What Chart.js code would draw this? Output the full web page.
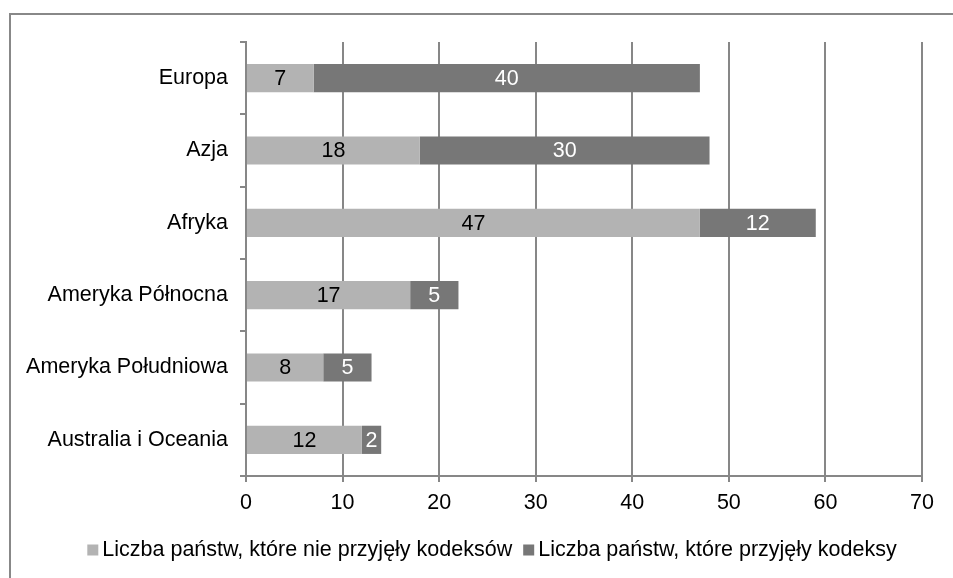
<!DOCTYPE html>
<html>
<head>
<meta charset="utf-8">
<script src="https://cdn.jsdelivr.net/npm/chart.js@4"></script>
<style>
  html, body { margin: 0; padding: 0; background: #fff; }
  #box { position: relative; width: 953px; height: 578px; }
</style>
</head>
<body>
<div id="box"><canvas id="kodeksyChart" width="953" height="578"></canvas></div>
<script>
const continents = ['Europa', 'Azja', 'Afryka', 'Ameryka Północna', 'Ameryka Południowa', 'Australia i Oceania'];
const notAdopted = [7, 18, 47, 17, 8, 12];
const adopted = [40, 30, 12, 5, 5, 2];
const xTicks = [0, 10, 20, 30, 40, 50, 60, 70];

const gridGray = '#878787';
const font = { family: '"Liberation Sans", Arial, sans-serif', size: 21.5 };
const cssFont = font.size + 'px ' + font.family;

// frame lines around the chart block
const frame = {
  id: 'frame',
  beforeDraw(chart) {
    const c = chart.ctx;
    c.save();
    c.fillStyle = '#fff';
    c.fillRect(0, 0, chart.width, chart.height);
    c.strokeStyle = '#888';
    c.lineWidth = 2;
    c.beginPath();
    c.moveTo(10, chart.height);
    c.lineTo(10, 14);
    c.lineTo(chart.width, 14);
    c.stroke();
    c.restore();
  }
};

// value printed in the middle of each bar segment
const segmentLabels = {
  id: 'segmentLabels',
  afterDatasetsDraw(chart) {
    const c = chart.ctx;
    c.save();
    c.font = cssFont;
    c.textAlign = 'center';
    c.textBaseline = 'middle';
    chart.data.datasets.forEach((ds, i) => {
      c.fillStyle = i === 0 ? '#000' : '#fff';
      chart.getDatasetMeta(i).data.forEach((bar, j) => {
        c.fillText(String(ds.data[j]), (bar.x + bar.base) / 2, bar.y + 1);
      });
    });
    c.restore();
  }
};

// compact legend under the axis: small square tight against its text
const bottomLegend = {
  id: 'bottomLegend',
  afterDraw(chart) {
    const c = chart.ctx;
    const box = 11, gap = 4, itemGap = 11, cy = 550;
    c.save();
    c.font = cssFont;
    c.textBaseline = 'middle';
    const items = chart.data.datasets.map(ds => ({
      text: ds.label, color: ds.backgroundColor, w: box + gap + c.measureText(ds.label).width
    }));
    const total = items.reduce((s, it) => s + it.w, 0) + itemGap * (items.length - 1);
    let x = 492 - total / 2;
    items.forEach(it => {
      c.fillStyle = it.color;
      c.fillRect(x, cy - box / 2, box, box);
      c.fillStyle = '#000';
      c.fillText(it.text, x + box + gap, cy);
      x += it.w + itemGap;
    });
    c.restore();
  }
};

const ctx = document.getElementById('kodeksyChart').getContext('2d');
new Chart(ctx, {
  type: 'bar',
  data: {
    labels: continents,
    datasets: [
      {
        label: 'Liczba państw, które nie przyjęły kodeksów',
        data: notAdopted,
        backgroundColor: '#b3b3b3',
        barPercentage: 0.39,
        categoryPercentage: 1
      },
      {
        label: 'Liczba państw, które przyjęły kodeksy',
        data: adopted,
        backgroundColor: '#777777',
        barPercentage: 0.39,
        categoryPercentage: 1
      }
    ]
  },
  options: {
    indexAxis: 'y',
    responsive: false,
    animation: false,
    devicePixelRatio: 1,
    layout: { padding: { top: 42, right: 31, left: 0, bottom: 48 } },
    scales: {
      x: {
        stacked: true,
        min: 0,
        max: 70,
        afterBuildTicks: axis => { axis.ticks = xTicks.map(v => ({ value: v })); },
        afterFit: axis => { axis.height = 54; },
        ticks: { font, color: '#000', padding: 8 },
        grid: { color: gridGray, lineWidth: 2, tickLength: 6, drawTicks: true },
        border: { color: gridGray, width: 2 }
      },
      y: {
        stacked: true,
        afterFit: axis => { axis.width = 246; },
        ticks: { font, color: '#000', padding: 12 },
        grid: { drawOnChartArea: false, color: gridGray, lineWidth: 2, tickLength: 6, offset: true },
        border: { color: gridGray, width: 2 }
      }
    },
    plugins: {
      legend: { display: false },
      tooltip: { enabled: false }
    }
  },
  plugins: [frame, segmentLabels, bottomLegend]
});
</script>
</body>
</html>
